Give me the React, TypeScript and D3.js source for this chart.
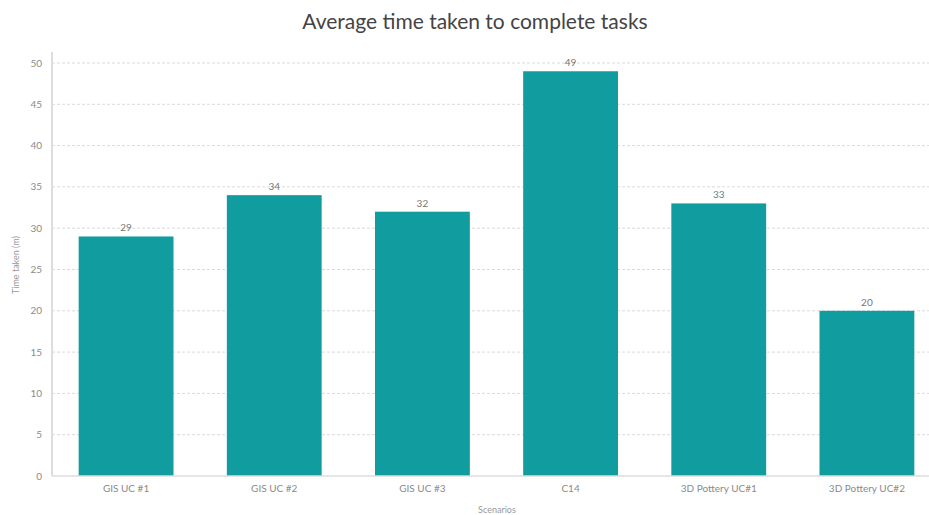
import React from "react";
import * as d3 from "d3";

const categories = ["GIS UC #1", "GIS UC #2", "GIS UC #3", "C14", "3D Pottery UC#1", "3D Pottery UC#2"];
const values = [29, 34, 32, 49, 33, 20];
const yTicks = [0, 5, 10, 15, 20, 25, 30, 35, 40, 45, 50];
const title = "Average time taken to complete tasks";
const xTitle = "Scenarios";
const yTitle = "Time taken (m)";

export default function App() {
  const W = 929, H = 515;
  const left = 52, right = 941, top = 63, bottom = 476;
  const x = d3.scaleBand<string>().domain(categories).range([left, right]).paddingInner(0.36).paddingOuter(0.18);
  const y = d3.scaleLinear().domain([0, 50]).range([bottom, top]);
  const font = "Lato, 'Open Sans', sans-serif";
  return (
    <svg width={W} height={H} style={{ position: "absolute", left: 0, top: 0, background: "#fff" }} fontFamily={font}>
      <text x={475} y={29} textAnchor="middle" fontSize={21} fill="#444">{title}</text>
      {yTicks.map(t => (
        <g key={t}>
          {t > 0 && <line x1={left} x2={W} y1={y(t)} y2={y(t)} stroke="#dadada" strokeDasharray="3,2" strokeWidth={1} />}
          <text x={42} y={y(t)} dy="0.35em" textAnchor="end" fontSize={10} fill="#8a8a8a">{t}</text>
        </g>
      ))}
      {categories.map((c, i) => (
        <g key={c}>
          <rect x={x(c)} y={y(values[i])} width={x.bandwidth()} height={bottom - y(values[i])} fill="#119c9f" />
          <text x={(x(c) as number) + x.bandwidth() / 2} y={y(values[i]) - 5} textAnchor="middle" fontSize={10} fill="#777">{values[i]}</text>
          <text x={(x(c) as number) + x.bandwidth() / 2} y={492} textAnchor="middle" fontSize={10} fill="#8a8a8a">{c}</text>
        </g>
      ))}
      <line x1={left} x2={left} y1={52} y2={bottom} stroke="#ddd" strokeWidth={2} />
      <line x1={left} x2={W} y1={bottom} y2={bottom} stroke="#ddd" strokeWidth={1.5} />
      <text x={497} y={513} textAnchor="middle" fontSize={9} fill="#999">{xTitle}</text>
      <text transform={`translate(19,${265}) rotate(-90)`} textAnchor="middle" fontSize={9} fill="#999">{yTitle}</text>
    </svg>
  );
}
